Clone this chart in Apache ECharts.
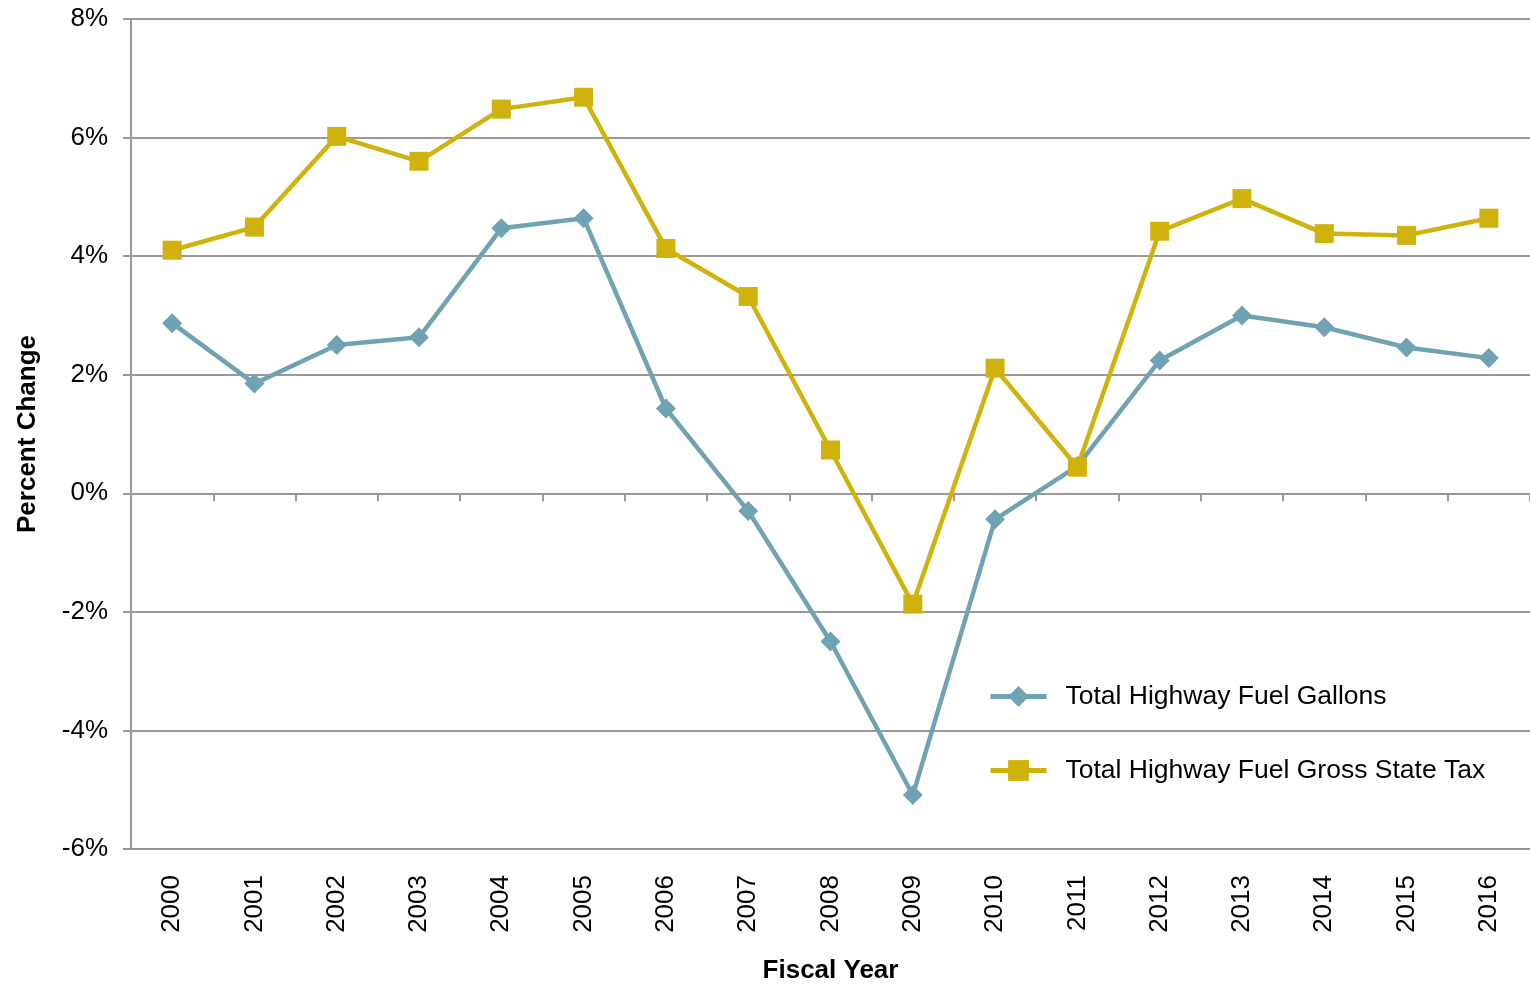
<!DOCTYPE html>
<html>
<head>
<meta charset="utf-8">
<script src="https://cdn.jsdelivr.net/npm/echarts@6/dist/echarts.min.js"></script>
<style>
  html, body { margin: 0; padding: 0; background: #fff; }
  #chart { width: 1530px; height: 984px; }
</style>
</head>
<body>
<div id="chart"></div>
<script>
const years = ["2000", "2001", "2002", "2003", "2004", "2005", "2006", "2007", "2008",
    "2009", "2010", "2011", "2012", "2013", "2014", "2015", "2016"];
const gallons = [2.87, 1.85, 2.50, 2.63, 4.47, 4.64, 1.43, -0.30, -2.50,
    -5.09, -0.44, 0.46, 2.24, 3.00, 2.80, 2.46, 2.28];
const grossTax = [4.10, 4.49, 6.02, 5.60, 6.48, 6.68, 4.13, 3.32, 0.73,
    -1.87, 2.11, 0.44, 4.42, 4.97, 4.38, 4.35, 4.64];

const font = "Liberation Sans, Arial, sans-serif";
const gridGray = "#999999";

let myChart = echarts.init(document.getElementById('chart'));
myChart.setOption({
    animation: false,
    textStyle: {fontFamily: font},
    grid: {left: 131, right: 0, top: 19, bottom: 135, outerBoundsMode: 'none'},
    legend: {
        orient: 'vertical',
        left: 983,
        top: 678,
        itemWidth: 56,
        itemHeight: 26,
        itemGap: 47,
        lineStyle: {width: 5},
        textStyle: {fontSize: 26.5, color: '#000', fontFamily: font, padding: [0, 0, 0, 14]},
        data: ["Total Highway Fuel Gallons", "Total Highway Fuel Gross State Tax"]
    },
    xAxis: [
        {
            type: 'category',
            data: years,
            position: 'bottom',
            axisLine: {show: false, onZero: false},
            axisTick: {show: false},
            axisLabel: {rotate: 90, margin: 26, fontSize: 26, color: '#000'},
            name: 'Fiscal Year',
            nameLocation: 'middle',
            nameGap: 109,
            nameTextStyle: {fontSize: 26, fontWeight: 'bold', color: '#000'}
        },
        {
            type: 'category',
            data: years,
            position: 'bottom',
            axisLine: {show: true, onZero: true, lineStyle: {color: gridGray, width: 2}},
            axisTick: {show: true, length: 8, lineStyle: {color: gridGray, width: 2}},
            axisLabel: {show: false}
        }
    ],
    yAxis: {
        type: 'value',
        min: -6,
        max: 8,
        interval: 2,
        axisLine: {show: true, lineStyle: {color: gridGray, width: 2}},
        axisTick: {show: true, length: 8, lineStyle: {color: gridGray, width: 2}},
        axisLabel: {formatter: '{value}%', fontSize: 26, color: '#000', margin: 23},
        splitLine: {lineStyle: {color: gridGray, width: 2}},
        name: 'Percent Change',
        nameLocation: 'middle',
        nameGap: 90,
        nameTextStyle: {fontSize: 26, fontWeight: 'bold', color: '#000'}
    },
    series: [
        {
            name: "Total Highway Fuel Gallons",
            type: 'line',
            data: gallons,
            symbol: 'diamond',
            symbolSize: 20,
            lineStyle: {color: '#6FA3B3', width: 4.5},
            itemStyle: {color: '#6FA3B3'}
        },
        {
            name: "Total Highway Fuel Gross State Tax",
            type: 'line',
            data: grossTax,
            symbol: 'rect',
            symbolSize: 19,
            lineStyle: {color: '#CFB20C', width: 4.5},
            itemStyle: {color: '#CFB20C'}
        }
    ]
});
</script>
</body>
</html>
